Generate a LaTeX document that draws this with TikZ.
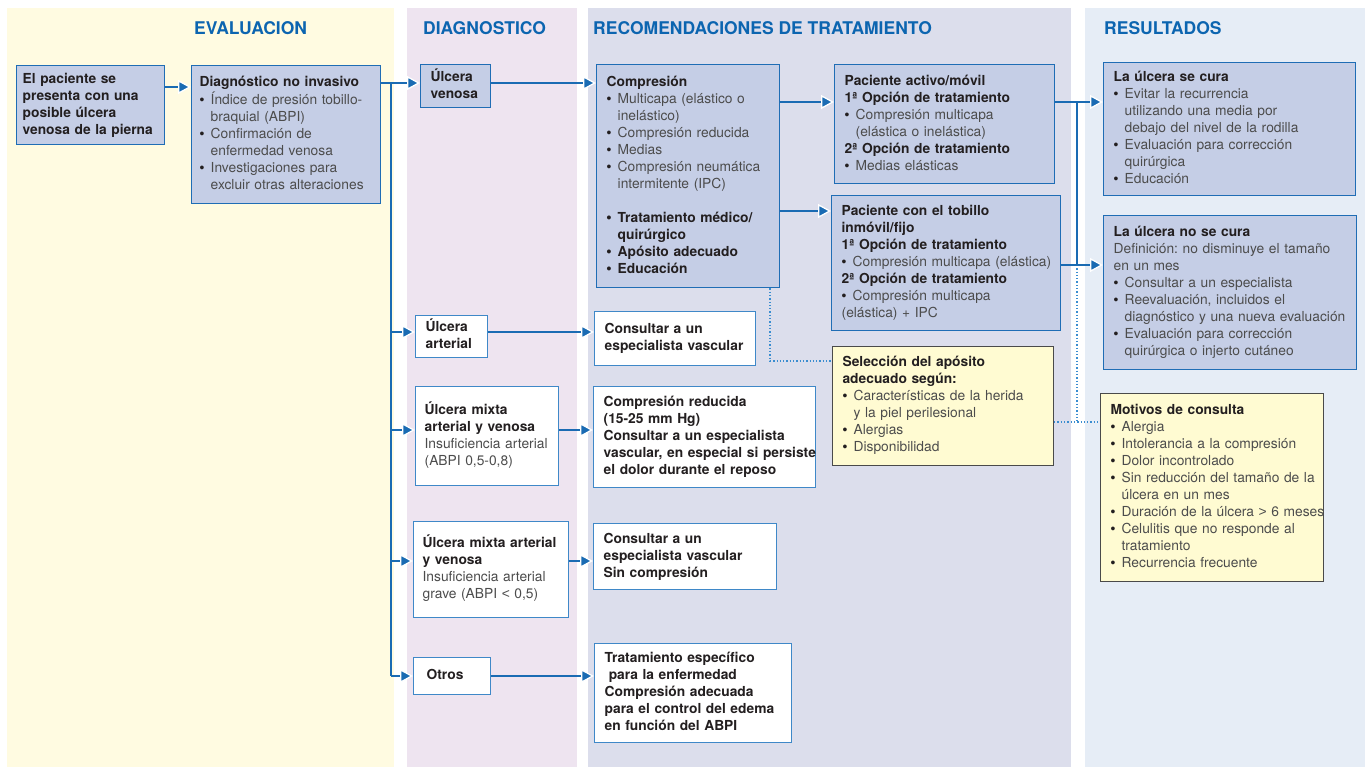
\documentclass[tikz,border=0pt]{standalone}
\usepackage{fontspec}
\setmainfont{TeX Gyre Heros}
\newfontfamily\bulfont{Liberation Sans}
\usetikzlibrary{arrows.meta}
\frenchspacing
\definecolor{colEval}{HTML}{FFFBE1}
\definecolor{colDiag}{HTML}{EEE4F0}
\definecolor{colRec}{HTML}{DCDEEC}
\definecolor{colRes}{HTML}{E6EDF6}
\definecolor{bfill}{HTML}{C5CEE6}
\definecolor{bborder}{HTML}{1F6DB5}
\definecolor{wborder}{HTML}{3F88C8}
\definecolor{yfill}{HTML}{FFFBD2}
\definecolor{yborder}{HTML}{4A4A4A}
\definecolor{lblue}{HTML}{1A6BB3}
\definecolor{dblue}{HTML}{3A8DD0}
\definecolor{hblue}{HTML}{0C65B0}
\definecolor{tdark}{HTML}{231F20}
\definecolor{tgray}{HTML}{4C4C4C}
\newcommand\hb[1]{{\bfseries\color{tdark}#1}}
\newcommand\bu{\makebox[0.8em][l]{\bulfont\color{tdark}\textbullet}}
\newcommand\ind{\hspace*{0.8em}}
\tikzset{
  base/.style={anchor=north west, line width=1.3pt, inner ysep=0pt, font=\fontsize{13.8}{17}\selectfont, text=tgray, align=left},
  bbox/.style={base, draw=bborder, fill=bfill},
  wbox/.style={base, draw=wborder, fill=white},
  ybox/.style={base, draw=yborder, fill=yfill, line width=1.1pt},
  conn/.style={draw=lblue, line width=1.3pt},
  arr/.style={conn, -{Triangle[length=13pt,width=14pt,color=white,fill=lblue,line width=1.3pt]}},
  dotc/.style={draw=dblue, line width=1.3pt, dotted},
  head/.style={anchor=base west, font=\fontsize{17.5}{20}\selectfont\bfseries, text=hblue, inner sep=0pt},
}
\begin{document}
\begin{tikzpicture}[x=1pt,y=-1pt]
\useasboundingbox (0,0) rectangle (1370,767);
% columns
\fill[colEval] (7,8) rectangle (394,767);
\fill[colDiag] (407,8) rectangle (577,767);
\fill[colRec] (588,8) rectangle (1071,767);
\fill[colRes] (1085,8) rectangle (1365,767);
% headers
\node[head] (hEval) at (194,35) {EVALUACION};
\node[head] (hDiag) at (423,35) {DIAGNOSTICO};
\node[head] (hRec) at (593,35) {RECOMENDACIONES DE TRATAMIENTO};
\node[head] (hRes) at (1104,35) {RESULTADOS};
% boxes
\node[bbox, text width=136pt, inner xsep=6pt, minimum height=79pt] (pat) at (16,65)
 {\begin{tabular}{@{}l@{}}\hb{El paciente se}\\ \hb{presenta con una}\\ \hb{posible úlcera}\\ \hb{venosa de la pierna}\end{tabular}};
\node[bbox, text width=173pt, inner xsep=8pt, minimum height=138pt] (diag) at (191,65)
 {\begin{tabular}{@{}l@{}}\hb{Diagnóstico no invasivo}\\ \bu Índice de presión tobillo-\\ \ind braquial (ABPI)\\ \bu Confirmación de\\ \ind enfermedad venosa\\ \bu Investigaciones para\\ \ind excluir otras alteraciones\end{tabular}};
\node[bbox, text width=50pt, inner xsep=10pt, minimum height=43pt] (uven) at (420,64)
 {\begin{tabular}{@{}l@{}}\hb{Úlcera}\\ \hb{venosa}\end{tabular}};
\node[bbox, text width=163pt, inner xsep=10pt, minimum height=223pt] (comp) at (596,64)
 {\begin{tabular}{@{}l@{}}\hb{Compresión}\\ \bu Multicapa (elástico o\\ \ind inelástico)\\ \bu Compresión reducida\\ \bu Medias\\ \bu Compresión neumática\\ \ind intermitente (IPC)\\ \\ \hb{\bu Tratamiento médico/}\\ \hb{\ind quirúrgico}\\ \hb{\bu Apósito adecuado}\\ \hb{\bu Educación}\end{tabular}};
\node[bbox, text width=200pt, inner xsep=10pt, minimum height=119pt] (pact) at (834,64)
 {\begin{tabular}{@{}l@{}}\hb{Paciente activo/móvil}\\ \hb{1ª Opción de tratamiento}\\ \bu Compresión multicapa\\ \ind (elástica o inelástica)\\ \hb{2ª Opción de tratamiento}\\ \bu Medias elásticas\end{tabular}};
\node[bbox, text width=209pt, inner xsep=10pt, minimum height=135pt] (ptob) at (831,195)
 {\begin{tabular}{@{}l@{}}\hb{Paciente con el tobillo}\\ \hb{inmóvil/fijo}\\ \hb{1ª Opción de tratamiento}\\ \bu Compresión multicapa (elástica)\\ \hb{2ª Opción de tratamiento}\\ \bu Compresión multicapa\\ (elástica) + IPC\end{tabular}};
\node[bbox, text width=232pt, inner xsep=10pt, minimum height=133pt] (cura) at (1103,62)
 {\begin{tabular}{@{}l@{}}\hb{La úlcera se cura}\\ \bu Evitar la recurrencia\\ \ind utilizando una media por\\ \ind debajo del nivel de la rodilla\\ \bu Evaluación para corrección\\ \ind quirúrgica\\ \bu Educación\end{tabular}};
\node[bbox, text width=233pt, inner xsep=10pt, minimum height=154pt] (nocura) at (1103,215)
 {\begin{tabular}{@{}l@{}}\hb{La úlcera no se cura}\\ Definición: no disminuye el tamaño\\ en un mes\\ \bu Consultar a un especialista\\ \bu Reevaluación, incluidos el\\ \ind diagnóstico y una nueva evaluación\\ \bu Evaluación para corrección\\ \ind quirúrgica o injerto cutáneo\end{tabular}};
\node[wbox, text width=52pt, inner xsep=10pt, minimum height=42pt] (uart) at (415,315)
 {\begin{tabular}{@{}l@{}}\hb{Úlcera}\\ \hb{arterial}\end{tabular}};
\node[wbox, text width=141pt, inner xsep=10pt, minimum height=54pt] (cons1) at (594,311)
 {\begin{tabular}{@{}l@{}}\hb{Consultar a un}\\ \hb{especialista vascular}\end{tabular}};
\node[wbox, text width=125pt, inner xsep=9pt, minimum height=99pt] (mixta) at (415,386)
 {\begin{tabular}{@{}l@{}}\hb{Úlcera mixta}\\ \hb{arterial y venosa}\\ Insuficiencia arterial\\ (ABPI 0,5-0,8)\end{tabular}};
\node[wbox, text width=202pt, inner xsep=10pt, minimum height=101pt] (cred) at (593,386)
 {\begin{tabular}{@{}l@{}}\hb{Compresión reducida}\\ \hb{(15-25 mm Hg)}\\ \hb{Consultar a un especialista}\\ \hb{vascular, en especial si persiste}\\ \hb{el dolor durante el reposo}\end{tabular}};
\node[wbox, text width=137pt, inner xsep=9pt, minimum height=96pt] (grave) at (413,521)
 {\begin{tabular}{@{}l@{}}\hb{Úlcera mixta arterial}\\ \hb{y venosa}\\ Insuficiencia arterial\\ grave (ABPI {\bulfont<} 0,5)\end{tabular}};
\node[wbox, text width=163pt, inner xsep=10pt, minimum height=66pt] (cons2) at (593,523)
 {\begin{tabular}{@{}l@{}}\hb{Consultar a un}\\ \hb{especialista vascular}\\ \hb{Sin compresión}\end{tabular}};
\node[wbox, text width=51pt, inner xsep=13pt, minimum height=37pt] (otros) at (413,657)
 {\begin{tabular}{@{}l@{}}\hb{Otros}\end{tabular}};
\node[wbox, text width=177pt, inner xsep=10pt, minimum height=99pt] (trat) at (594,643)
 {\begin{tabular}{@{}l@{}}\hb{Tratamiento específico}\\ \hb{\hspace*{0.3em}para la enfermedad}\\ \hb{Compresión adecuada}\\ \hb{para el control del edema}\\ \hb{en función del ABPI}\end{tabular}};
\node[ybox, text width=201pt, inner xsep=10pt, minimum height=119pt] (sel) at (832,346)
 {\begin{tabular}{@{}l@{}}\hb{Selección del apósito}\\ \hb{adecuado según:}\\ \bu Características de la herida\\ \ind y la piel perilesional\\ \bu Alergias\\ \bu Disponibilidad\end{tabular}};
\node[ybox, text width=203pt, inner xsep=10pt, minimum height=188pt] (mot) at (1100,393)
 {\begin{tabular}{@{}l@{}}\hb{Motivos de consulta}\\ \bu Alergia\\ \bu Intolerancia a la compresión\\ \bu Dolor incontrolado\\ \bu Sin reducción del tamaño de la\\ \ind úlcera en un mes\\ \bu Duración de la úlcera {\bulfont>} 6 meses\\ \bu Celulitis que no responde al\\ \ind tratamiento\\ \bu Recurrencia frecuente\end{tabular}};
% reference rows
\coordinate (y87) at (0,87);
\coordinate (sp) at (391,83);
\coordinate (y332) at (0,332);
\coordinate (y430) at (0,430);
\coordinate (y561) at (0,561);
\coordinate (y676) at (0,676);
\coordinate (rs) at (1077,102);
\coordinate (y211) at (0,211);
\coordinate (y265) at (0,265);
\coordinate (y422) at (0,422);
\coordinate (dx) at (770,361);
% connectors
\draw[conn] (sp) -- (sp |- y676);
\draw[conn] (rs) -- (rs |- y265);
\draw[dotc] (rs |- y265) -- (rs |- y422);
\draw[dotc] (sel.east |- y422) -- (mot.west |- y422);
\draw[dotc] (comp.south -| dx) -- (dx) -- (sel.west |- dx);
\draw[arr] (pat.east |- y87) -- (diag.west |- y87);
\draw[arr] (diag.east |- sp) -- (uven.west |- sp);
\draw[arr] (sp |- y332) -- (uart.west |- y332);
\draw[arr] (sp |- y430) -- (mixta.west |- y430);
\draw[arr] (sp |- y561) -- (grave.west |- y561);
\draw[arr] (sp |- y676) -- (otros.west |- y676);
\draw[arr] (uven.east |- sp) -- (comp.west |- sp);
\draw[arr] (uart.east |- y332) -- (cons1.west |- y332);
\draw[arr] (mixta.east |- y430) -- (cred.west |- y430);
\draw[arr] (grave.east |- y561) -- (cons2.west |- y561);
\draw[arr] (otros.east |- y676) -- (trat.west |- y676);
\draw[arr] (comp.east |- rs) -- (pact.west |- rs);
\draw[arr] (comp.east |- y211) -- (ptob.west |- y211);
\draw[arr] (pact.east |- rs) -- (cura.west |- rs);
\draw[arr] (ptob.east |- y265) -- (nocura.west |- y265);
\end{tikzpicture}
\end{document}
